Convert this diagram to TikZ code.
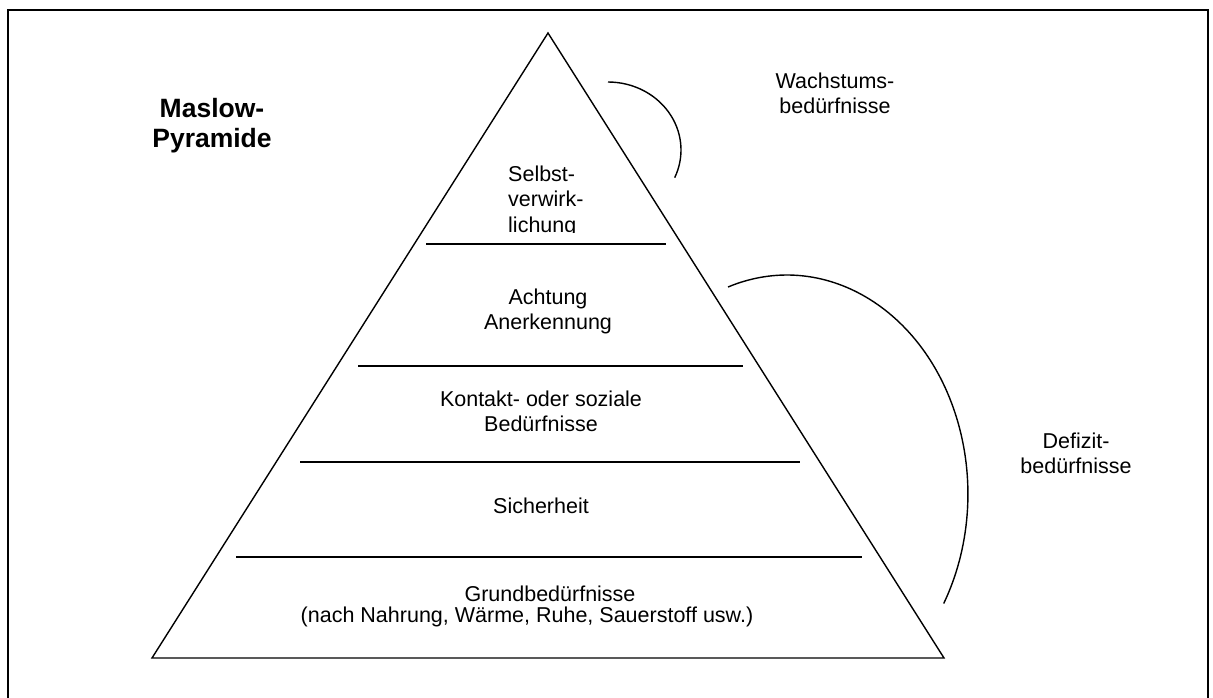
\documentclass[tikz,border=0pt]{standalone}
\usepackage{fontspec}
\setmainfont{Liberation Sans}
\usetikzlibrary{positioning}

\begin{document}
\begin{tikzpicture}[
        x=1pt, y=-1pt,
        node distance=5.5pt,
        level/.style={inner sep=0pt, align=center, font=\fontsize{21.5}{25.5}\selectfont},
        side/.style={inner sep=0pt, align=center, font=\fontsize{21.5}{25.5}\selectfont},
        heading/.style={inner sep=0pt, align=center, font=\fontsize{26.5}{30}\selectfont\bfseries},
        divider/.style={line width=1.4pt},
        bow/.style={line width=1.4pt}
    ]
        \fill[white] (0,0) rectangle (1213,698);
        \useasboundingbox (0,0) rectangle (1213,698);
        \draw[line width=2.4pt] (8,698) -- (8,10) -- (1208,10) -- (1208,698);

        % pyramid
        \coordinate (apex) at (548,33);
        \coordinate (baseleft) at (152,658);
        \coordinate (baseright) at (944,658);
        \draw[divider, line join=miter] (apex) -- (baseright) -- (baseleft) -- cycle;

        \draw[divider] (426,244) -- (666,244);
        \draw[divider] (358,366) -- (743,366);
        \draw[divider] (300,462) -- (800,462);
        \draw[divider] (236,557) -- (862,557);

        \node[heading, anchor=north] (title) at (212,98) {Maslow-\\Pyramide};

        % text box of the top level cuts off the descenders
        \begin{scope}
            \clip (490,150) rectangle (620,232);
            \node[level, anchor=north west, align=left] (selbst) at (508,165.5) {Selbst-\\verwirk-\\lichung};
        \end{scope}
        \node[level, anchor=north] (achtung) at (548,288.5) {Achtung\\Anerkennung};
        \node[level, anchor=north] (kontakt) at (541,390.5) {Kontakt- oder soziale\\Bedürfnisse};
        \node[level, anchor=north] (sicher) at (541,497.5) {Sicherheit};
        \node[level, anchor=north] (grund) at (550,585.5) {Grundbedürfnisse};
        \node[level, below=of grund, xshift=-23pt] (nahrung) {(nach Nahrung, Wärme, Ruhe, Sauerstoff usw.)};

        % groups on the right
        \draw[bow] (608,82) arc[start angle=90, end angle=-24, x radius=73pt, y radius=68pt];
        \draw[bow] (728,287) arc[start angle=109, end angle=-30, x radius=181pt, y radius=219pt];

        \node[side, anchor=north] (wachstum) at (835,72.5) {Wachstums-\\bedürfnisse};
        \node[side, anchor=north] (defizit) at (1076,432.5) {Defizit-\\bedürfnisse};
    \end{tikzpicture}
\end{document}
